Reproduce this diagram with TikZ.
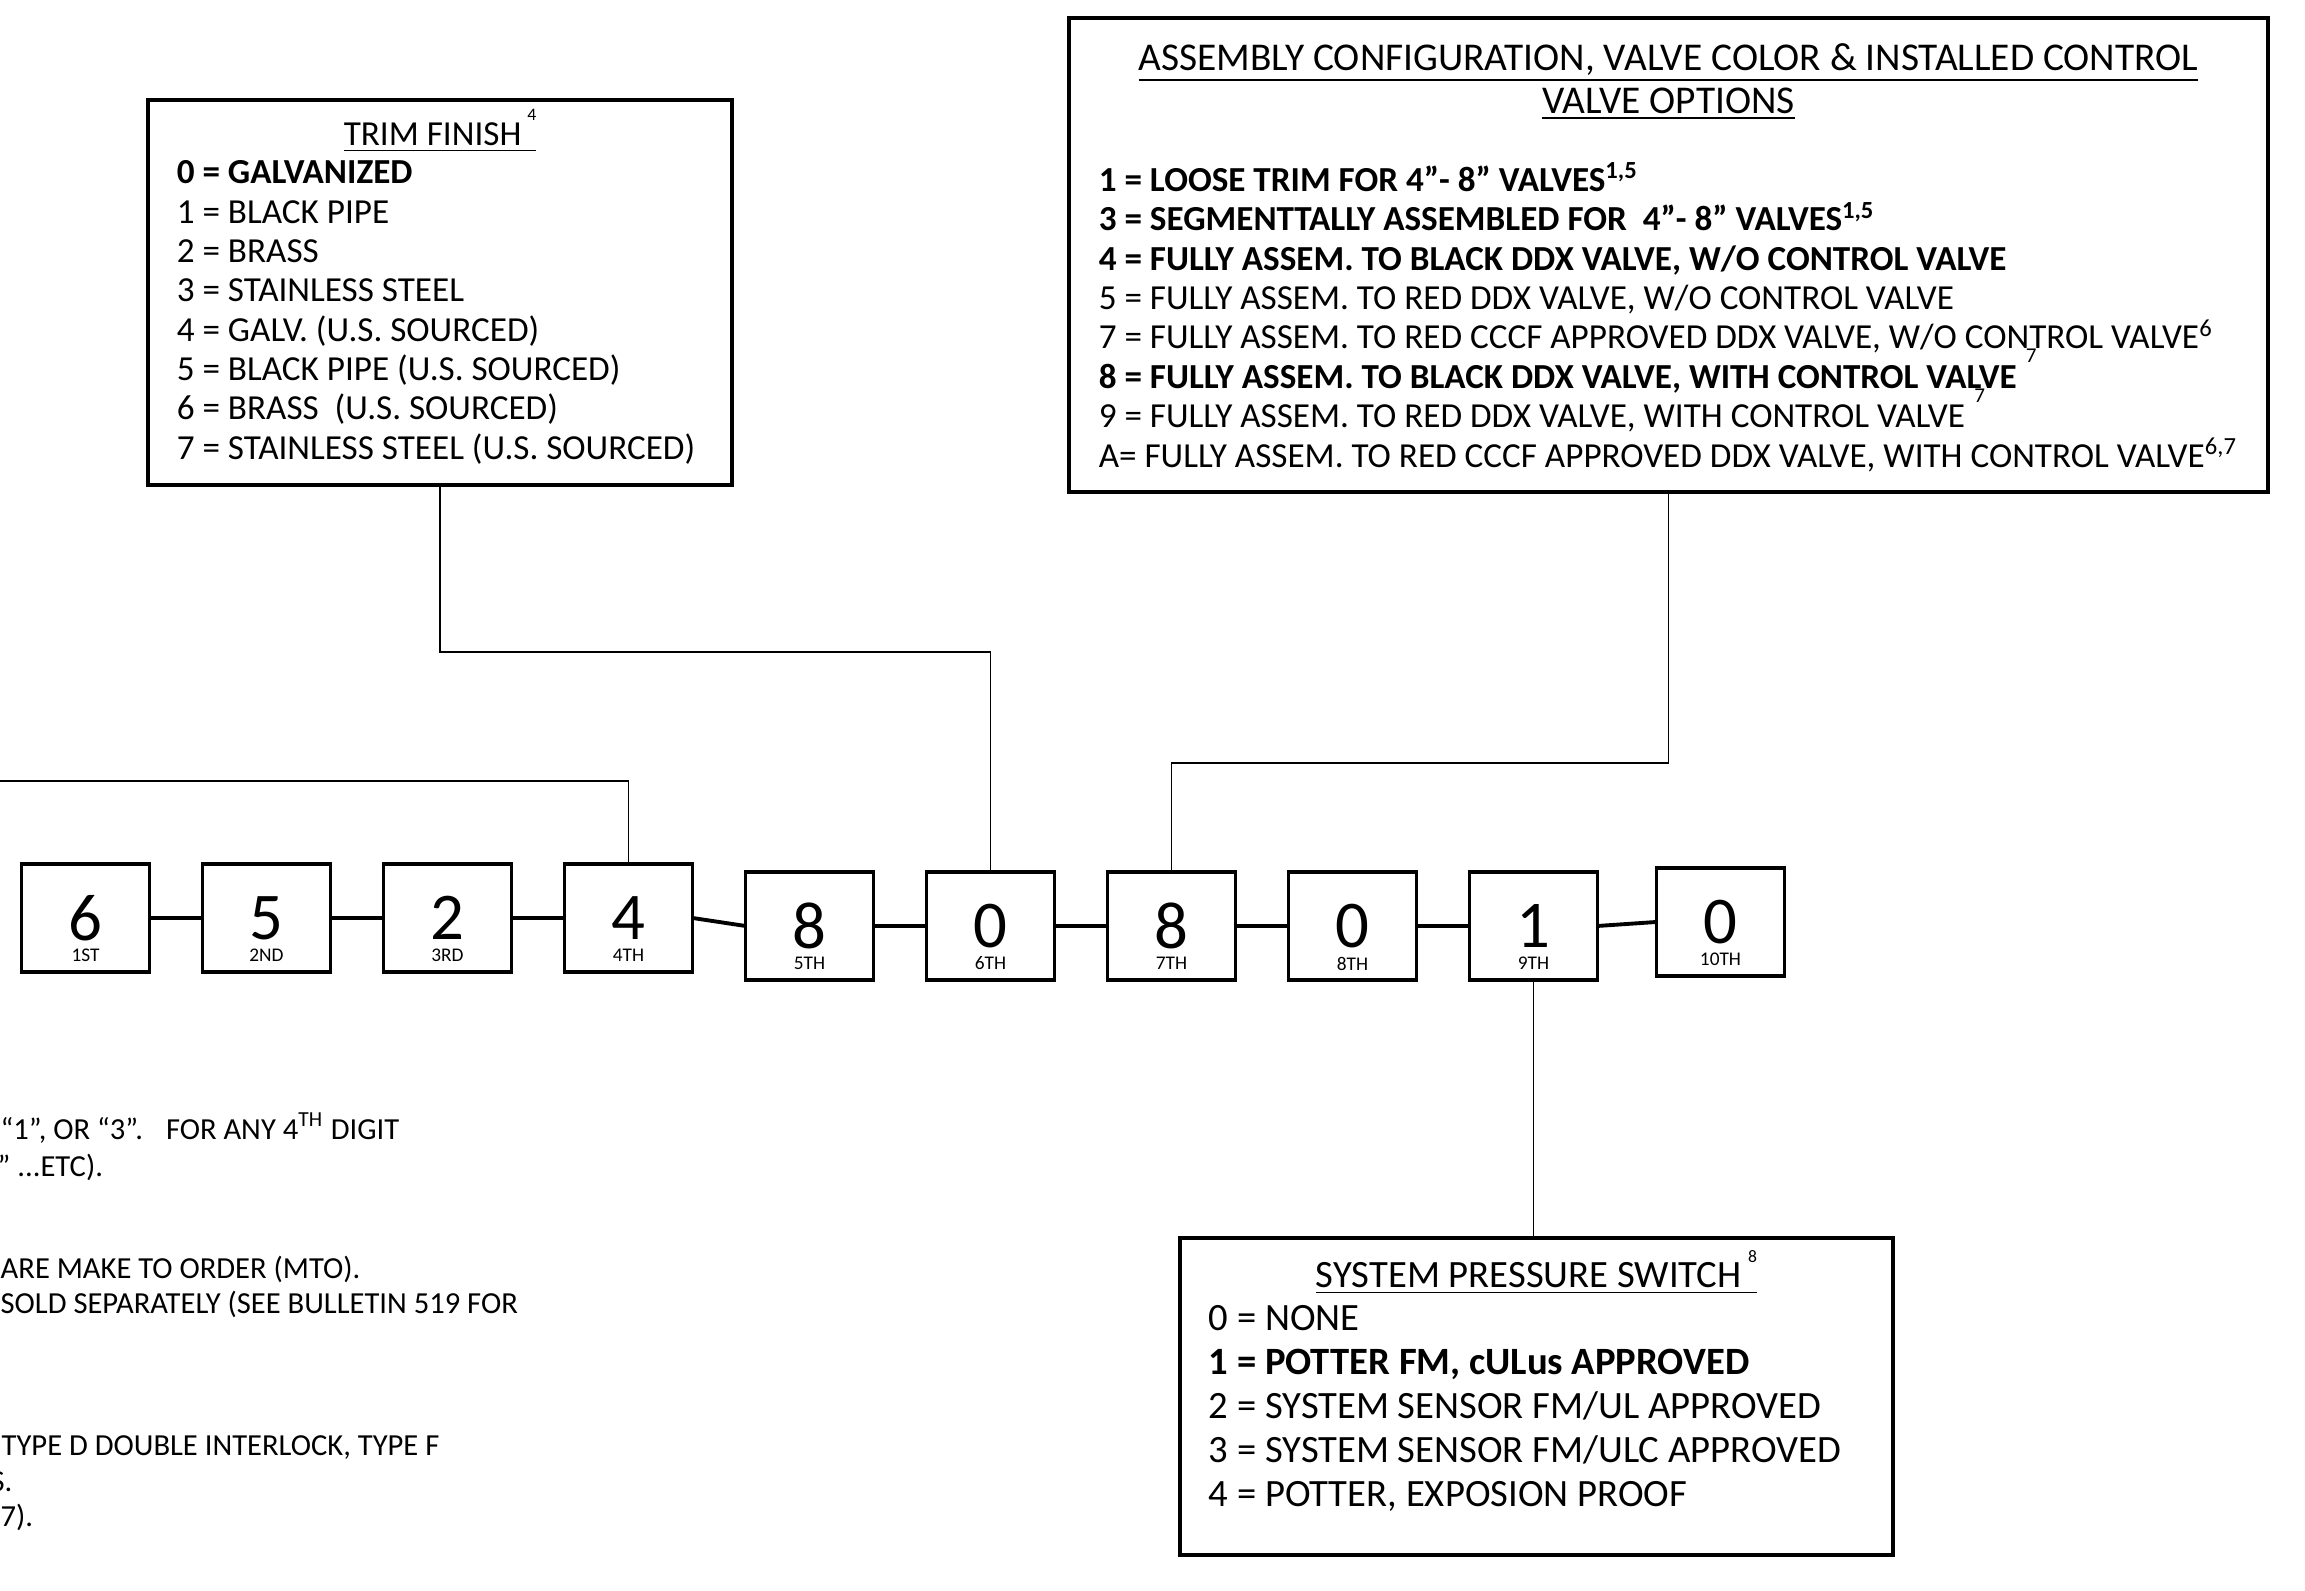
\documentclass[tikz,border=0pt]{standalone}
\usepackage{fontspec}
\setmainfont{Carlito}
\usetikzlibrary{positioning, calc}

% raised footnote marks that take no room
\newcommand{\fnhi}[1]{\raisebox{7pt}[0pt][0pt]{\fontsize{5}{5}\selectfont #1}}
\newcommand{\fnlo}[1]{\rlap{\hspace{2.6pt}\raisebox{7.3pt}[0pt][0pt]{\fontsize{6}{6}\selectfont #1}}}

\begin{document}
\begin{tikzpicture}[
  digit/.style={rectangle, draw, line width=1.1pt, minimum width=1.28cm, minimum height=1.08cm,
                inner sep=0pt, outer sep=0pt, font=\fontsize{19}{19}\selectfont},
  ordlbl/.style={inner sep=0pt, font=\fontsize{5.5}{6}\selectfont},
  optbox/.style={rectangle, draw, line width=1.1pt, inner sep=0pt},
  ttl/.style={anchor=north, inner sep=0pt, align=center, font=\fontsize{10}{12}\selectfont,
              execute at begin node=\rule{0pt}{9pt}},
  opts/.style={anchor=north west, inner sep=0pt, align=left, font=\fontsize{10}{11.2}\selectfont,
               execute at begin node=\rule{0pt}{9pt}},
  note/.style={anchor=base west, inner sep=0pt, font=\fontsize{8.7}{10}\selectfont},
  link/.style={line width=1.1pt},
  lead/.style={line width=0.5pt}
]
\path[use as bounding box, fill=white] (0,0) rectangle (23.05,15.91);

% model number digits
\node[digit] (d1) at (0.855,6.73) {6};
\node[digit, right=0.53cm of d1] (d2) {5};
\node[digit, right=0.53cm of d2] (d3) {2};
\node[digit, right=0.53cm of d3] (d4) {4};
\node[digit, right=0.53cm of d4, yshift=-0.8mm] (d5) {8};
\node[digit, right=0.53cm of d5] (d6) {0};
\node[digit, right=0.53cm of d6] (d7) {8};
\node[digit, right=0.53cm of d7] (d8) {0};
\node[digit, right=0.53cm of d8] (d9) {1};
\node[digit, right=0.59cm of d9, yshift=0.4mm] (d10) {0};

\node[ordlbl] (o1) at ([yshift=-3.75mm]d1.center) {1ST};
\node[ordlbl] (o2) at ([yshift=-3.75mm]d2.center) {2ND};
\node[ordlbl] (o3) at ([yshift=-3.75mm]d3.center) {3RD};
\node[ordlbl] (o4) at ([yshift=-3.75mm]d4.center) {4TH};
\node[ordlbl] (o5) at ([yshift=-3.75mm]d5.center) {5TH};
\node[ordlbl] (o6) at ([yshift=-3.75mm]d6.center) {6TH};
\node[ordlbl] (o7) at ([yshift=-3.75mm]d7.center) {7TH};
\node[ordlbl] (o8) at ([yshift=-3.75mm]d8.center) {8TH};
\node[ordlbl] (o9) at ([yshift=-3.75mm]d9.center) {9TH};
\node[ordlbl] (o10) at ([yshift=-3.75mm]d10.center) {10TH};

\draw[link] (d1) -- (d2);
\draw[link] (d2) -- (d3);
\draw[link] (d3) -- (d4);
\draw[link] (d4.east) -- (d5.west);
\draw[link] (d5) -- (d6);
\draw[link] (d6) -- (d7);
\draw[link] (d7) -- (d8);
\draw[link] (d8) -- (d9);
\draw[link] (d9.east) -- (d10.west);

% trim finish
\node[optbox, minimum width=5.84cm, minimum height=3.85cm] (trim) at (4.40,12.985) {};
\node[ttl] (trimttl) at ([yshift=-0.15cm]trim.north) {\underline{TRIM FINISH\,\fnhi{4}}};
\node[opts] (trimopt) at ([xshift=0.30cm, yshift=-0.62cm]trim.north west) {%
  \textbf{0 = GALVANIZED}\\
  1 = BLACK PIPE\\
  2 = BRASS\\
  3 = STAINLESS STEEL\\
  4 = GALV. (U.S. SOURCED)\\
  5 = BLACK PIPE (U.S. SOURCED)\\
  6 = BRASS~ (U.S. SOURCED)\\
  7 = STAINLESS STEEL (U.S. SOURCED)};

% assembly configuration
\node[optbox, minimum width=11.99cm, minimum height=4.74cm] (asm) at (16.685,13.36) {};
\node[ttl, font=\fontsize{11.2}{12.2}\selectfont] (asmttl) at ([yshift=-0.265cm]asm.north)
  {\underline{ASSEMBLY CONFIGURATION, VALVE COLOR \& INSTALLED CONTROL}\\
   \underline{VALVE OPTIONS}};
\node[opts] (asmopt) at ([xshift=0.31cm, yshift=-1.46cm]asm.north west) {%
  \textbf{1 = LOOSE TRIM FOR 4”- 8” VALVES\textsuperscript{1,5}}\\
  \textbf{3 = SEGMENTTALLY ASSEMBLED FOR~ 4”- 8” VALVES\textsuperscript{1,5}}\\
  \textbf{4 = FULLY ASSEM. TO BLACK DDX VALVE, W/O CONTROL VALVE}\\
  5 = FULLY ASSEM. TO RED DDX VALVE, W/O CONTROL VALVE\\
  7 = FULLY ASSEM. TO RED CCCF APPROVED DDX VALVE, W/O CONTROL VALVE\textsuperscript{6}\\
  \textbf{8 = FULLY ASSEM. TO BLACK DDX VALVE, WITH CONTROL VALVE}\fnlo{7}\\
  9 = FULLY ASSEM. TO RED DDX VALVE, WITH CONTROL VALVE\fnlo{7}\\
  A= FULLY ASSEM. TO RED CCCF APPROVED DDX VALVE, WITH CONTROL VALVE\textsuperscript{6,7}};

% system pressure switch
\node[optbox, minimum width=7.13cm, minimum height=3.17cm] (sys) at (15.365,1.945) {};
\node[ttl, font=\fontsize{11}{12.5}\selectfont] (systtl) at ([yshift=-0.19cm]sys.north)
  {\underline{SYSTEM PRESSURE SWITCH\,\fnhi{8}}};
\node[opts, font=\fontsize{11}{12.5}\selectfont] (sysopt) at ([xshift=0.30cm, yshift=-0.69cm]sys.north west) {%
  0 = NONE\\
  \textbf{1 = POTTER FM, cULus APPROVED}\\
  2 = SYSTEM SENSOR FM/UL APPROVED\\
  3 = SYSTEM SENSOR FM/ULC APPROVED\\
  4 = POTTER, EXPOSION PROOF};

% leaders
\coordinate (lft) at (0,8.10);
\draw[lead] (lft) -| (d4.north);
\draw[lead] (trim.south) -- ++(0,-1.65) -| (d6.north);
\draw[lead] (asm.south) -- ++(0,-2.69) -| (d7.north);
\draw[lead] (d9.south) -- (d9.south |- sys.north);

% notes (cut at the left edge)
\node[note] (n1) at (0,4.51) {“1”, OR “3”.~~ FOR ANY 4\textsuperscript{TH} DIGIT};
\node[note] (n2) at (-0.03,4.14) {” ...ETC).};
\node[note] (n3) at (0,3.12) {ARE MAKE TO ORDER (MTO).};
\node[note] (n4) at (0,2.77) {SOLD SEPARATELY (SEE BULLETIN 519 FOR};
\node[note] (n5) at (0.01,1.35) {TYPE D DOUBLE INTERLOCK, TYPE F};
\node[note] (n6) at (-0.10,0.99) {S.};
\node[note] (n7) at (0,0.64) {7).};
\end{tikzpicture}
\end{document}
